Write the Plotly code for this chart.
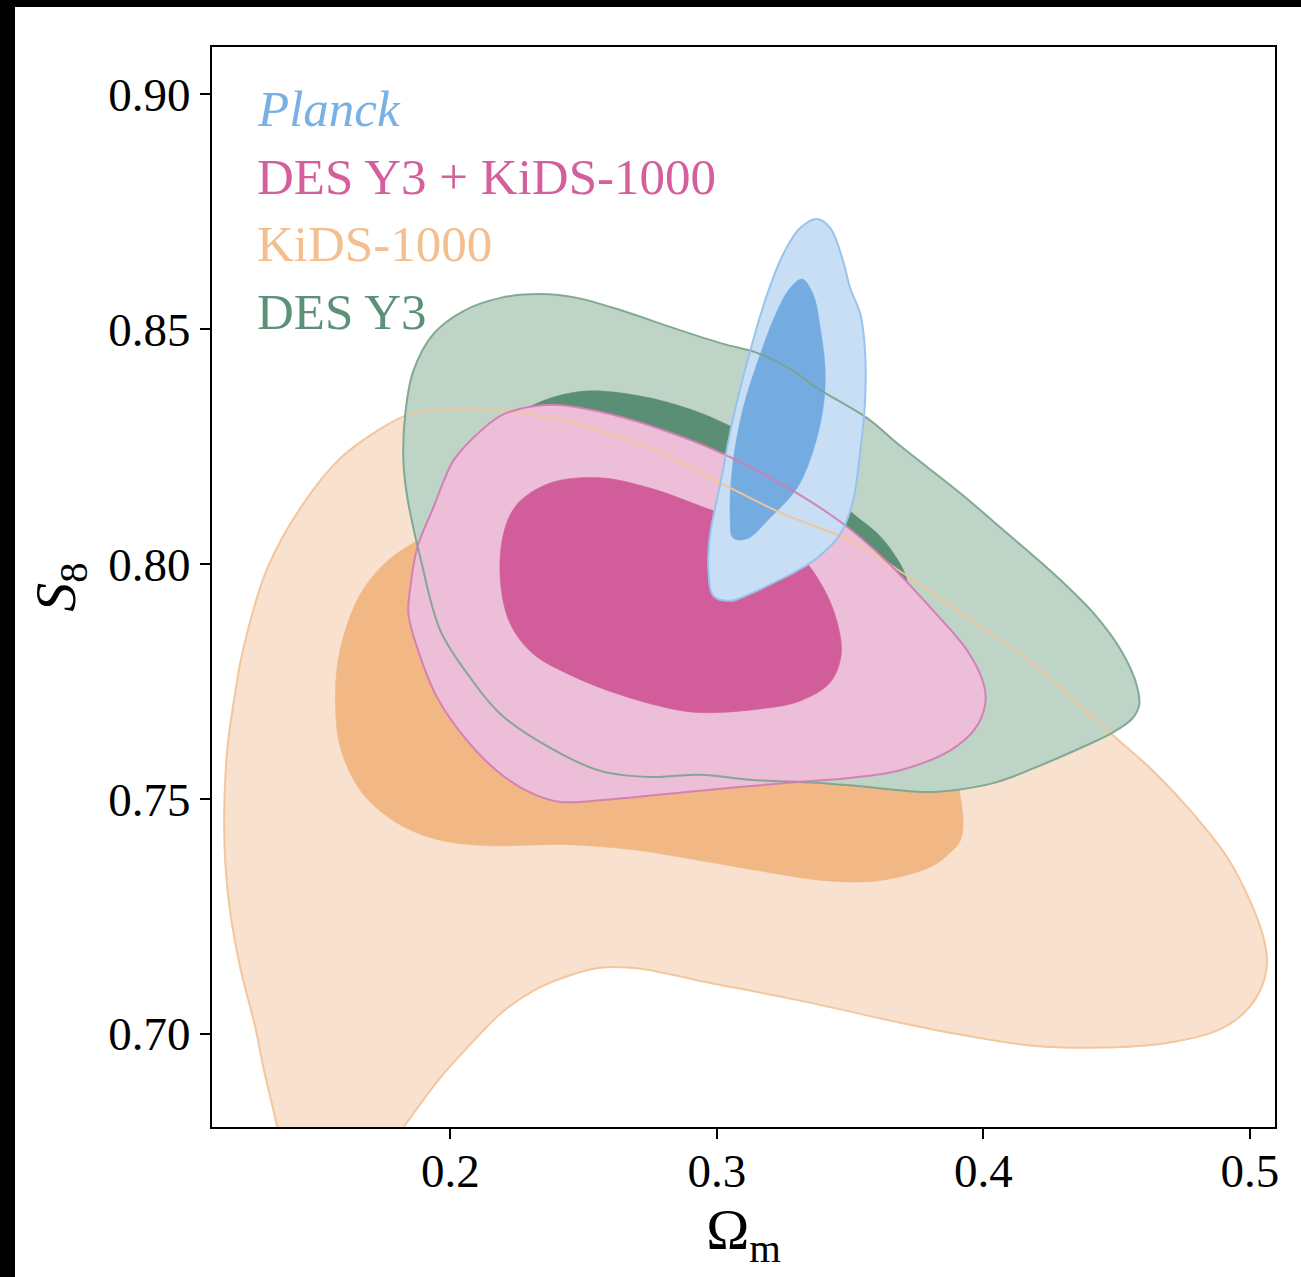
import plotly.graph_objects as go

# ---------------- data (Omega_m, S8) contour outlines ----------------
kids95_om = [0.1374, 0.1351, 0.1299, 0.1269, 0.1212, 0.1175, 0.1156, 0.1152, 0.1164, 0.1194,
             0.1224, 0.1314, 0.1438, 0.1588, 0.1726, 0.1850, 0.2026, 0.2214, 0.2401, 0.2589,
             0.2776, 0.3001, 0.3249, 0.3500, 0.3725, 0.3980, 0.4194, 0.4445, 0.4633, 0.4794,
             0.4918, 0.5000, 0.5049, 0.5064, 0.5038, 0.4974, 0.4876, 0.4689, 0.4438, 0.4186,
             0.3939, 0.3688, 0.3313, 0.2938, 0.2713, 0.2563, 0.2439, 0.2311, 0.2188, 0.2064,
             0.1963, 0.1824, 0.1738]
kids95_s8 = [0.6730, 0.6801, 0.6928, 0.7013, 0.7141, 0.7256, 0.7362, 0.7475, 0.7609, 0.7730,
             0.7822, 0.7992, 0.8120, 0.8226, 0.8284, 0.8320, 0.8330, 0.8326, 0.8309, 0.8279,
             0.8241, 0.8177, 0.8107, 0.8050, 0.7971, 0.7871, 0.7784, 0.7656, 0.7562, 0.7464,
             0.7373, 0.7284, 0.7209, 0.7150, 0.7092, 0.7043, 0.7007, 0.6981, 0.6971, 0.6975,
             0.6996, 0.7024, 0.7071, 0.7113, 0.7139, 0.7141, 0.7123, 0.7092, 0.7043, 0.6971,
             0.6907, 0.6801, 0.6730]

kids68_om = [0.1963, 0.2188, 0.2563, 0.2938, 0.3313, 0.3613, 0.3800, 0.3894, 0.3913, 0.3924,
             0.3913, 0.3875, 0.3811, 0.3706, 0.3564, 0.3376, 0.3163, 0.2938, 0.2686, 0.2439,
             0.2124, 0.1936, 0.1786, 0.1663, 0.1588, 0.1569, 0.1588, 0.1663, 0.1764, 0.1876]
kids68_s8 = [0.8075, 0.8109, 0.8124, 0.8092, 0.8007, 0.7879, 0.7730, 0.7581, 0.7507, 0.7454,
             0.7411, 0.7386, 0.7358, 0.7337, 0.7324, 0.7328, 0.7347, 0.7369, 0.7392, 0.7403,
             0.7401, 0.7416, 0.7454, 0.7518, 0.7609, 0.7716, 0.7822, 0.7937, 0.8007, 0.8050]

des95_om = [0.1824, 0.1831, 0.1861, 0.1936, 0.2049, 0.2188, 0.2338, 0.2476, 0.2649, 0.2836,
            0.3024, 0.3151, 0.3275, 0.3376, 0.3564, 0.3688, 0.3916, 0.4066, 0.4269, 0.4419,
            0.4520, 0.4576, 0.4584, 0.4558, 0.4483, 0.4381, 0.4194, 0.4044, 0.3905, 0.3778,
            0.3564, 0.3376, 0.3125, 0.2938, 0.2750, 0.2563, 0.2375, 0.2188, 0.2064, 0.1963,
            0.1888, 0.1839]
des95_s8 = [0.8220, 0.8320, 0.8411, 0.8490, 0.8539, 0.8567, 0.8575, 0.8567, 0.8539, 0.8503,
            0.8469, 0.8450, 0.8416, 0.8375, 0.8311, 0.8252, 0.8150, 0.8077, 0.7977, 0.7892,
            0.7813, 0.7741, 0.7699, 0.7671, 0.7641, 0.7613, 0.7567, 0.7535, 0.7520, 0.7515,
            0.7526, 0.7535, 0.7541, 0.7552, 0.7547, 0.7560, 0.7609, 0.7681, 0.7767, 0.7858,
            0.8013, 0.8141]

des68_om = [0.2281, 0.2311, 0.2401, 0.2525, 0.2713, 0.2900, 0.3050, 0.3275, 0.3500, 0.3628,
            0.3714, 0.3688, 0.3575, 0.3313, 0.2938, 0.2563, 0.2263, 0.2113, 0.2150, 0.2225]
des68_s8 = [0.8330, 0.8339, 0.8358, 0.8369, 0.8358, 0.8330, 0.8294, 0.8220, 0.8113, 0.8050,
            0.7962, 0.7926, 0.7837, 0.7773, 0.7752, 0.7773, 0.7858, 0.8007, 0.8199, 0.8294]

joint95_om = [0.1843, 0.1850, 0.1876, 0.1936, 0.2011, 0.2086, 0.2188, 0.2300, 0.2401, 0.2551,
              0.2776, 0.3024, 0.3286, 0.3474, 0.3628, 0.3815, 0.3943, 0.4003, 0.4006, 0.3969,
              0.3879, 0.3691, 0.3500, 0.3313, 0.2938, 0.2626, 0.2413, 0.2311, 0.2188, 0.2064,
              0.1951, 0.1876]
joint95_s8 = [0.7894, 0.7950, 0.8035, 0.8120, 0.8220, 0.8269, 0.8316, 0.8335, 0.8339, 0.8326,
              0.8290, 0.8235, 0.8156, 0.8086, 0.8011, 0.7899, 0.7813, 0.7741, 0.7699, 0.7650,
              0.7605, 0.7562, 0.7545, 0.7537, 0.7518, 0.7501, 0.7494, 0.7511, 0.7554, 0.7624,
              0.7716, 0.7822]

joint68_om = [0.2188, 0.2199, 0.2251, 0.2375, 0.2563, 0.2750, 0.2938, 0.3163, 0.3313, 0.3406,
              0.3455, 0.3466, 0.3425, 0.3313, 0.3163, 0.2938, 0.2814, 0.2626, 0.2439, 0.2311,
              0.2225]
joint68_s8 = [0.7964, 0.8064, 0.8128, 0.8173, 0.8184, 0.8162, 0.8124, 0.8075, 0.8018, 0.7943,
              0.7869, 0.7805, 0.7748, 0.7709, 0.7692, 0.7684, 0.7694, 0.7724, 0.7767, 0.7809,
              0.7873]

planck95_om = [0.3376, 0.3425, 0.3474, 0.3500, 0.3538, 0.3556, 0.3556, 0.3538, 0.3511, 0.3463,
               0.3376, 0.3301, 0.3226, 0.3125, 0.3050, 0.2986, 0.2968, 0.2975, 0.3013, 0.3061,
               0.3125, 0.3189, 0.3249, 0.3313]
planck95_s8 = [0.8735, 0.8716, 0.8645, 0.8588, 0.8533, 0.8454, 0.8347, 0.8241, 0.8135, 0.8064,
               0.8013, 0.7986, 0.7964, 0.7937, 0.7922, 0.7933, 0.7992, 0.8064, 0.8171, 0.8311,
               0.8454, 0.8575, 0.8660, 0.8716]

planck68_om = [0.3320, 0.3361, 0.3388, 0.3406, 0.3399, 0.3361, 0.3301, 0.3200, 0.3114, 0.3061,
               0.3050, 0.3058, 0.3099, 0.3163, 0.3226, 0.3275]
planck68_s8 = [0.8607, 0.8575, 0.8503, 0.8418, 0.8333, 0.8241, 0.8162, 0.8099, 0.8054, 0.8056,
               0.8099, 0.8205, 0.8333, 0.8447, 0.8539, 0.8588]

x_tickvals = [0.2, 0.3, 0.4, 0.5]
x_ticktext = ["0.2", "0.3", "0.4", "0.5"]
y_tickvals = [0.70, 0.75, 0.80, 0.85, 0.90]
y_ticktext = ["0.70", "0.75", "0.80", "0.85", "0.90"]

legend_labels = ["<i>Planck</i>", "DES Y3 + KiDS-1000", "KiDS-1000", "DES Y3"]
legend_colors = ["#79b0e6", "#d45f9c", "#f3bf8f", "#5b9177"]

# ---------------- styling ----------------
FONT = "Liberation Serif"
C = {
    "kids95": "#f8e1cf", "kids68": "#f1b784", "kidsline": "rgba(243,196,153,0.95)",
    "des95": "#bdd4c7", "des68": "#5a8f75", "desline": "rgba(122,163,141,0.9)",
    "joint95": "#ecbed8", "joint68": "#d15e9b", "jointline": "rgba(212,122,176,0.9)",
    "planck95": "#c7def4", "planck68": "#74ace2", "planckline": "rgba(150,193,236,0.95)",
}


def closed(a):
    return list(a) + [a[0]]


fig = go.Figure()


def add_fill(xs, ys, color):
    fig.add_trace(go.Scatter(
        x=closed(xs), y=closed(ys), mode="lines", fill="toself", fillcolor=color,
        line=dict(color=color, width=0.5, shape="spline", smoothing=1.0),
        hoverinfo="skip", showlegend=False))


def add_line(xs, ys, color, width=2):
    fig.add_trace(go.Scatter(
        x=closed(xs), y=closed(ys), mode="lines",
        line=dict(color=color, width=width, shape="spline", smoothing=1.0),
        hoverinfo="skip", showlegend=False))


add_fill(kids95_om, kids95_s8, C["kids95"])
add_fill(kids68_om, kids68_s8, C["kids68"])
add_fill(des95_om, des95_s8, C["des95"])
add_fill(des68_om, des68_s8, C["des68"])
add_fill(joint95_om, joint95_s8, C["joint95"])
add_fill(joint68_om, joint68_s8, C["joint68"])
add_fill(planck95_om, planck95_s8, C["planck95"])
add_fill(planck68_om, planck68_s8, C["planck68"])

add_line(kids95_om, kids95_s8, C["kidsline"])
add_line(des95_om, des95_s8, C["desline"])
add_line(joint95_om, joint95_s8, C["jointline"])
add_line(planck95_om, planck95_s8, C["planckline"])

# legend as coloured text
legend_y = [0.9423, 0.8793, 0.8173, 0.7543]
for lab, col, yy in zip(legend_labels, legend_colors, legend_y):
    fig.add_annotation(text=lab, xref="x domain", yref="y domain", x=0.040, y=yy,
                       xanchor="left", yanchor="middle", showarrow=False,
                       font=dict(family=FONT, size=51, color=col))

W, H = 1301, 1277
ML, MR, MT, MB = 212, 26, 47, 150
PW, PH = W - ML - MR, H - MT - MB


def px_x(p):
    return (p - ML) / PW


def px_y(p):
    return (H - MB - p) / PH


# black frame strips at the top and left of the picture
fig.add_shape(type="rect", xref="paper", yref="paper", x0=px_x(0), x1=px_x(15),
              y0=px_y(H), y1=px_y(0), fillcolor="black", line_width=0, layer="above")
fig.add_shape(type="rect", xref="paper", yref="paper", x0=px_x(0), x1=px_x(W),
              y0=px_y(7), y1=px_y(0), fillcolor="black", line_width=0, layer="above")

axis_common = dict(showline=True, mirror=True, linecolor="black", linewidth=2,
                   ticks="outside", ticklen=10, tickwidth=2, tickcolor="black",
                   showgrid=False, zeroline=False,
                   tickfont=dict(family=FONT, size=47, color="black"))

fig.update_xaxes(range=[0.1106, 0.5094], tickvals=x_tickvals, ticktext=x_ticktext,
                 ticklabelstandoff=-8,
                 title=dict(text="Ω<sub>m</sub>", font=dict(family=FONT, size=58, color="black"),
                            standoff=12),
                 **axis_common)
fig.update_yaxes(range=[0.6802, 0.9101], tickvals=y_tickvals, ticktext=y_ticktext,
                 title=dict(text="<i>S</i><sub>8</sub>", font=dict(family=FONT, size=58, color="black"),
                            standoff=14),
                 **axis_common)

fig.update_layout(width=W, height=H, margin=dict(l=ML, r=MR, t=MT, b=MB),
                  paper_bgcolor="white", plot_bgcolor="white", showlegend=False)

fig.write_html("out.html", config={"displayModeBar": False},
               post_script="document.body.style.margin='0';")
